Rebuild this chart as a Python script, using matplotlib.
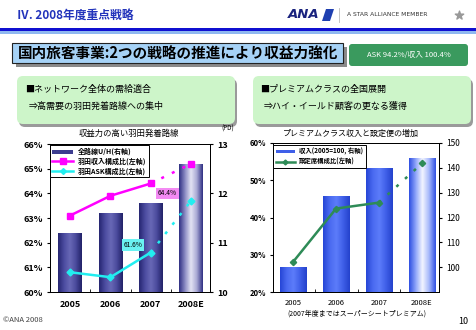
import matplotlib
matplotlib.use("Agg")
import matplotlib.pyplot as plt
import numpy as np
from matplotlib.patches import Rectangle, FancyBboxPatch, Polygon, Patch
from matplotlib.lines import Line2D
from matplotlib.colors import LinearSegmentedColormap

plt.rcParams['font.family'] = ['Noto Sans CJK JP', 'DejaVu Sans']

years = ['2005', '2006', '2007', '2008E']

# --- left chart: 収益力の高い羽田発着路線 ---
uh_values = [11.2, 11.6, 11.8, 12.6]          # 全路線U/H (右軸, PD)
haneda_rev_share = [63.1, 63.9, 64.4, 65.2]    # 羽田収入構成比 (左軸, %)
haneda_ask_share = [60.8, 60.6, 61.6, 63.7]    # 羽田ASK構成比 (左軸, %)

# --- right chart: プレミアムクラス収入と設定便の増加 ---
premium_revenue = [100, 128.6, 140, 144]       # 収入 (2005=100, 右軸)
premium_seat_share = [28.1, 42.4, 44.0, 54.5]  # 設定席構成比 (左軸, %)

W, H = 476, 330
fig = plt.figure(figsize=(W / 100, H / 100), dpi=100)

# background layer in pixel coords
bg = fig.add_axes([0, 0, 1, 1])
bg.set_xlim(0, W)
bg.set_ylim(H, 0)
bg.axis('off')


def gradient_bars(ax, bars, cmaps):
    for b, cm in zip(bars, cmaps):
        x0, y0 = b.get_x(), b.get_y()
        w, h = b.get_width(), b.get_height()
        grad = np.linspace(0, 1, 64).reshape(1, -1)
        im = ax.imshow(grad, extent=[x0, x0 + w, y0, y0 + h], aspect='auto',
                       cmap=cm, zorder=b.get_zorder(), interpolation='bilinear')
        im.set_clip_path(b)
        b.set_facecolor('none')


def split_line(ax, x, y, color, marker, ms):
    ax.plot(x[:3], y[:3], color=color, lw=1.8, marker=marker, ms=ms, zorder=4)
    ax.plot(x[2:], y[2:], color=color, lw=1.8, ls=(0, (1.2, 3.5)), zorder=4)
    ax.plot(x[3:], y[3:], color=color, lw=0, marker=marker, ms=ms, zorder=4)


# ---------------- header ----------------
bg.text(17, 15, 'Ⅳ. 2008年度重点戦略', fontsize=8.5, color='#2233bb',
        style='italic', weight='bold', va='center')
bg.text(288, 15, 'ANA', fontsize=9.5, color='#1a237e', style='italic',
        weight='heavy', va='center', family='DejaVu Sans')
bg.add_patch(Polygon([[322, 21], [326, 9], [334, 9], [330, 21]], closed=True,
                     facecolor='#1f3fb0', edgecolor='none'))
bg.plot([339, 339], [8, 22], color='#bbbbbb', lw=0.6)
bg.text(347, 15, 'A STAR ALLIANCE MEMBER', fontsize=4.3, color='#333333',
        va='center', family='DejaVu Sans')
bg.scatter([459], [15], marker='*', s=40, color='#999999')
bg.add_patch(Rectangle((0, 28), W, 3, facecolor='#1010d0', edgecolor='none'))
bg.add_patch(Rectangle((0, 31), W, 3, facecolor='#8fb8f0', edgecolor='none'))

# title box
bg.add_patch(Rectangle((16, 47), 331, 20, facecolor='#8a8a8a', edgecolor='none'))
bg.add_patch(Rectangle((12, 43), 331, 20, facecolor='#a6d2f6', edgecolor='#222222', lw=0.8))
bg.text(18, 53.5, '国内旅客事業:2つの戦略の推進により収益力強化', fontsize=10.5,
        weight='bold', va='center')
bg.add_patch(FancyBboxPatch((349, 44), 119, 22, boxstyle='round,pad=0,rounding_size=3',
                            facecolor='#3a9a5e', edgecolor='none'))
bg.text(408.5, 55, 'ASK 94.2%/収入 100.4%', fontsize=5.5, color='white',
        ha='center', va='center')

# green boxes
for x0 in (17, 253):
    bg.add_patch(FancyBboxPatch((x0 + 2, 79), 218, 48, boxstyle='round,pad=0,rounding_size=6',
                                facecolor='#9a9a9a', edgecolor='none'))
    bg.add_patch(FancyBboxPatch((x0, 76), 218, 48, boxstyle='round,pad=0,rounding_size=6',
                                facecolor='#cdf5c9', edgecolor='none'))
bg.text(25, 89, '■ネットワーク全体の需給適合', fontsize=6.5, va='center')
bg.text(29, 106, '⇒高需要の羽田発着路線への集中', fontsize=6.5, va='center')
bg.text(260, 89, '■プレミアムクラスの全国展開', fontsize=6.5, va='center')
bg.text(264, 106, '⇒ハイ・イールド顧客の更なる獲得', fontsize=6.5, va='center')

# chart titles / footers
bg.text(129, 133, '収益力の高い羽田発着路線', fontsize=6, ha='center', va='center')
bg.text(228, 129, '(PD)', fontsize=4.5, ha='center', va='center')
bg.text(351, 133, 'プレミアムクラス収入と設定便の増加', fontsize=5.8, ha='center', va='center')
bg.text(357, 314, '(2007年度まではスーパーシートプレミアム)', fontsize=5, ha='center', va='center')
bg.text(3, 320, '©ANA 2008', fontsize=5.5, color='#444444', va='center')
bg.text(468, 322, '10', fontsize=6.5, ha='right', va='center')

x = np.arange(len(years))

# ---------------- left chart ----------------
ax = fig.add_axes([50 / W, 1 - 292 / H, 160 / W, 148 / H])
ax2 = ax.twinx()
navy = LinearSegmentedColormap.from_list('navy', ['#262672', '#4c4ca0', '#6868b6', '#4a4a9c', '#222268'])
navy_light = LinearSegmentedColormap.from_list('navyl', ['#303084', '#8c8cc4', '#e4e4f4', '#a8a8d4', '#303084'])
bars = ax.bar(x, [v - 10 for v in uh_values], bottom=10, width=0.58, zorder=2)
gradient_bars(ax, bars, [navy, navy, navy, navy_light])
ax.set_ylim(10, 13)
ax.set_xlim(-0.5, 3.47)
ax.yaxis.tick_right()
ax.set_yticks([10, 11, 12, 13])
ax.tick_params(axis='y', labelsize=6.5, length=2, pad=3)
for t in ax.get_yticklabels():
    t.set_fontweight('bold')
ax.set_xticks(x)
ax.set_xticklabels(years, fontsize=6.5, fontweight='bold')
ax.set_xticks([0.5, 1.5, 2.5], minor=True)
ax.tick_params(axis='x', which='major', length=0, pad=6)
ax.tick_params(axis='x', which='minor', length=2.5, direction='in')

split_line(ax2, x, haneda_rev_share, '#ff00ff', 's', 4.5)
split_line(ax2, x, haneda_ask_share, '#22eef0', 'D', 3.5)
ax2.set_ylim(60, 66)
ax2.yaxis.tick_left()
ax2.set_yticks(range(60, 67))
ax2.set_yticklabels([f'{v}%' for v in range(60, 67)], fontsize=6.5, fontweight='bold')
ax2.tick_params(axis='y', length=2, pad=3)
ax2.text(2.41, 64.0, f'{haneda_rev_share[2]:.1f}%', fontsize=4.8, ha='center', va='center',
         bbox=dict(facecolor='#f38af3', edgecolor='none', pad=1.2), zorder=6)
ax2.text(1.56, 61.9, f'{haneda_ask_share[2]:.1f}%', fontsize=4.8, ha='center', va='center',
         bbox=dict(facecolor='#6af2f2', edgecolor='none', pad=1.2), zorder=6)
leg = ax2.legend(handles=[Patch(facecolor='#3c3c90', edgecolor='none', label='全路線U/H(右軸)'),
                          Line2D([], [], color='#ff00ff', lw=1.8, marker='s', ms=4, label='羽田収入構成比(左軸)'),
                          Line2D([], [], color='#22eef0', lw=1.8, marker='D', ms=3, label='羽田ASK構成比(左軸)')],
                 loc='upper left', bbox_to_anchor=(-0.01, 1.0), prop={'weight': 'bold', 'size': 5},
                 frameon=True, fancybox=False, edgecolor='black', framealpha=1,
                 borderpad=0.35, labelspacing=0.3, handlelength=3.0, handleheight=0.5,
                 handletextpad=0.7, borderaxespad=0.2)
leg.get_frame().set_linewidth(0.7)
for a in (ax, ax2):
    for s in a.spines.values():
        s.set_linewidth(0.7)

# ---------------- right chart ----------------
rx = fig.add_axes([273 / W, 1 - 292 / H, 166 / W, 149 / H])
rx2 = rx.twinx()
blue = LinearSegmentedColormap.from_list('blue', ['#2646d6', '#4a6af0', '#5c7cfa', '#3f5fe8', '#2442cc'])
blue_light = LinearSegmentedColormap.from_list('bluel', ['#3050e2', '#90a6fa', '#f4f6ff', '#a6b8fb', '#3050e2'])
rbars = rx.bar(x, [v - 90 for v in premium_revenue], bottom=90, width=0.62, zorder=2)
gradient_bars(rx, rbars, [blue, blue, blue, blue_light])
rx.set_ylim(90, 150)
rx.set_xlim(-0.47, 3.4)
rx.yaxis.tick_right()
rx.set_yticks(range(100, 151, 10))
rx.tick_params(axis='y', labelsize=6, length=2, pad=3)
rx.set_xticks(x)
rx.set_xticklabels(years, fontsize=5.5)
rx.set_xticks([0.5, 1.5, 2.5], minor=True)
rx.tick_params(axis='x', which='major', length=0, pad=5)
rx.tick_params(axis='x', which='minor', length=2.5, direction='in')

split_line(rx2, x, premium_seat_share, '#2e8b57', 'D', 3.2)
rx2.set_ylim(20, 60)
rx2.yaxis.tick_left()
rx2.set_yticks(range(20, 61, 10))
rx2.set_yticklabels([f'{v}%' for v in range(20, 61, 10)], fontsize=5.5, fontweight='bold')
rx2.tick_params(axis='y', length=2, pad=3)
leg2 = rx2.legend(handles=[Patch(facecolor='#3f5fe8', edgecolor='none', label='収入(2005=100, 右軸)'),
                           Line2D([], [], color='#2e8b57', lw=1.8, marker='D', ms=2.5, label='設定席構成比(左軸)')],
                  loc='upper left', bbox_to_anchor=(0.0, 0.985), prop={'weight': 'bold', 'size': 4.6},
                  frameon=True, fancybox=False, edgecolor='black', framealpha=1,
                  borderpad=0.4, labelspacing=0.35, handlelength=3.0, handleheight=0.5,
                  handletextpad=0.7, borderaxespad=0)
leg2.get_frame().set_linewidth(0.7)
for a in (rx, rx2):
    for s in a.spines.values():
        s.set_linewidth(0.7)

fig.savefig('out.png', dpi=100)
